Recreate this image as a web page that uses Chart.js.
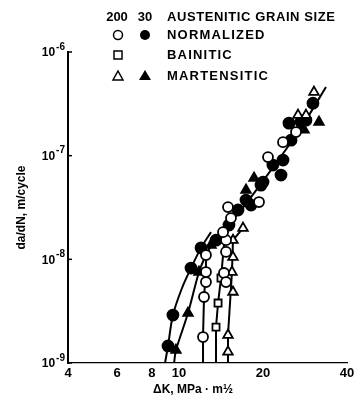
<!DOCTYPE html>
<html lang="en">
<head>
<meta charset="UTF-8">
<script src="https://cdn.jsdelivr.net/npm/chart.js"></script>
<title>Fatigue crack growth</title>
<style>
  body { margin: 0; background: #fff; }
</style>
</head>
<body>
<canvas id="crackChart" width="360" height="400"></canvas>
<script>
// delta K (MPa m^1/2) and da/dN (m/cycle)
const norm200K  = [12.19, 12.29, 12.49, 12.49, 12.49, 14.49, 14.74, 14.74, 14.74, 14.38, 15.35, 14.98, 19.35, 20.84, 23.59, 26.26];
const norm200Da = [1.78e-9, 4.33e-9, 6.04e-9, 7.54e-9, 1.10e-8, 7.38e-9, 6.04e-9, 1.18e-8, 1.53e-8, 1.83e-8, 2.50e-8, 3.19e-8, 3.57e-8, 9.69e-8, 1.35e-7, 1.69e-7];

const norm30K  = [9.13, 9.51, 11.04, 11.99, 13.57, 15.1, 16.27, 17.38, 18.12, 19.67, 20.0, 21.7, 23.2, 23.59, 25.2, 24.78, 27.36, 28.5, 30.2];
const norm30Da = [1.46e-9, 2.90e-9, 8.24e-9, 1.29e-8, 1.53e-8, 2.14e-8, 2.99e-8, 3.73e-8, 3.34e-8, 5.20e-8, 5.56e-8, 8.11e-8, 6.50e-8, 9.07e-8, 1.41e-7, 2.06e-7, 2.11e-7, 2.2e-7, 3.21e-7];

const bain200K  = [13.57, 13.8, 14.14];
const bain200Da = [2.22e-9, 3.79e-9, 6.6e-9];

const mart200K  = [14.98, 14.98, 15.61, 15.48, 15.61, 15.61, 16.96, 26.7, 28.52, 30.46];
const mart200Da = [1.28e-9, 1.86e-9, 4.84e-9, 7.54e-9, 1.05e-8, 1.53e-8, 2.0e-8, 2.46e-7, 2.46e-7, 4.10e-7];

const mart30K  = [9.75, 10.77, 11.79, 13.02, 17.38, 18.57, 28.06, 31.74];
const mart30Da = [1.33e-9, 3.03e-9, 7.54e-9, 1.37e-8, 4.66e-8, 6.08e-8, 1.77e-7, 2.11e-7];

// hand-drawn trend lines of the figure
const curveNormK  = [8.91, 9.13, 9.51, 10.25, 11.04, 11.99, 13.02];
const curveNormDa = [1.0e-9, 1.46e-9, 2.9e-9, 5.29e-9, 8.24e-9, 1.29e-8, 1.83e-8];
const curveMartK  = [9.6, 9.75, 10.77, 11.79, 12.49, 13.57];
const curveMartDa = [1.0e-9, 1.33e-9, 3.03e-9, 7.54e-9, 1.10e-8, 1.71e-8];
const lineNorm200K  = [12.19, 12.19, 12.29, 12.49, 12.49, 13.35];
const lineNorm200Da = [1.0e-9, 1.78e-9, 4.33e-9, 7.54e-9, 1.10e-8, 1.53e-8];
const lineBainK  = [13.57, 13.57, 13.8, 14.14, 14.5];
const lineBainDa = [1.0e-9, 2.22e-9, 3.79e-9, 6.6e-9, 1.4e-8];
const lineMartK  = [14.98, 14.98, 15.48, 15.61, 16.96];
const lineMartDa = [1.0e-9, 1.86e-9, 7.54e-9, 1.53e-8, 2.0e-8];
const mainLineK  = [13.35, 16.68, 21.36, 27.36, 33.63];
const mainLineDa = [1.53e-8, 2.99e-8, 7.26e-8, 1.85e-7, 4.59e-7];

const xTicks = [4, 6, 8, 10, 20, 40];
const yTicks = [1e-9, 1e-8, 1e-7, 1e-6];
const yExponents = ['-9', '-8', '-7', '-6'];

const FONT = '"Liberation Sans", Arial, "DejaVu Sans", sans-serif';

function pts(xs, ys) {
    return xs.map((x, i) => ({ x: x, y: ys[i] }));
}

function markers(xs, ys, style, filled) {
    return {
        data: pts(xs, ys),
        pointStyle: style,
        pointRadius: style === 'triangle' ? 5.5 : (filled ? 5.5 : 5),
        pointBackgroundColor: filled ? '#000' : '#fff',
        pointBorderColor: '#000',
        pointBorderWidth: 1.8,
        showLine: false,
        order: 1
    };
}

function trend(xs, ys, tension) {
    return {
        data: pts(xs, ys),
        showLine: true,
        borderColor: '#000',
        borderWidth: 2,
        pointRadius: 0,
        tension: tension,
        order: 5
    };
}

// legend block, y tick labels with raised exponents, x title
const figureText = {
    id: 'figureText',
    afterDraw(chart) {
        const ctx = chart.ctx;
        const yScale = chart.scales.y;
        const left = chart.chartArea.left;
        ctx.save();
        ctx.fillStyle = '#000';
        ctx.strokeStyle = '#000';
        ctx.textBaseline = 'middle';
        ctx.font = 'bold 13px ' + FONT;
        ctx.textAlign = 'center';
        ctx.fillText('200', 117, 17);
        ctx.fillText('30', 145, 17);
        ctx.textAlign = 'left';
        ctx.letterSpacing = '0.6px';
        ctx.fillText('AUSTENITIC GRAIN SIZE', 167, 17);
        ctx.letterSpacing = '1.2px';
        ctx.fillText('NORMALIZED', 167, 35);
        ctx.fillText('BAINITIC', 167, 55);
        ctx.fillText('MARTENSITIC', 167, 76);
        ctx.letterSpacing = '0px';

        ctx.lineWidth = 1.5;
        ctx.beginPath(); ctx.arc(118, 35, 4.5, 0, Math.PI * 2); ctx.stroke();
        ctx.beginPath(); ctx.arc(145, 35, 5, 0, Math.PI * 2); ctx.fill();
        ctx.strokeRect(114, 51, 8, 8);
        ctx.beginPath(); ctx.moveTo(118, 71); ctx.lineTo(123, 80); ctx.lineTo(113, 80); ctx.closePath(); ctx.stroke();
        ctx.beginPath(); ctx.moveTo(145, 70); ctx.lineTo(151, 80); ctx.lineTo(139, 80); ctx.closePath(); ctx.fill();

        // decade labels 10^n on the y axis, plus short inward ticks
        yTicks.forEach((v, i) => {
            const y = yScale.getPixelForValue(v);
            ctx.font = 'bold 10px ' + FONT;
            ctx.textAlign = 'right';
            ctx.fillText(yExponents[i], left - 3, y - 5);
            const expW = ctx.measureText(yExponents[i]).width;
            ctx.font = 'bold 12px ' + FONT;
            ctx.fillText('10', left - 4 - expW, y + 1);
            ctx.beginPath();
            ctx.moveTo(left, y);
            ctx.lineTo(left + 4, y);
            ctx.stroke();
        });

        ctx.font = 'bold 12px ' + FONT;
        ctx.textAlign = 'center';
        ctx.fillText('\u0394K, MPa \u00B7 m\u00BD', 193, 390);
        ctx.restore();
    }
};

new Chart(document.getElementById('crackChart'), {
    type: 'scatter',
    data: {
        datasets: [
            markers(norm200K, norm200Da, 'circle', false),
            markers(bain200K, bain200Da, 'rect', false),
            markers(mart200K, mart200Da, 'triangle', false),
            markers(norm30K, norm30Da, 'circle', true),
            markers(mart30K, mart30Da, 'triangle', true),
            trend(curveNormK, curveNormDa, 0.3),
            trend(curveMartK, curveMartDa, 0.3),
            trend(lineNorm200K, lineNorm200Da, 0),
            trend(lineBainK, lineBainDa, 0),
            trend(lineMartK, lineMartDa, 0),
            trend(mainLineK, mainLineDa, 0.2)
        ]
    },
    options: {
        responsive: false,
        animation: false,
        layout: { padding: { top: 52, right: 13, left: 0, bottom: 0 } },
        plugins: {
            legend: { display: false },
            tooltip: { enabled: false }
        },
        scales: {
            x: {
                type: 'logarithmic',
                min: 4,
                max: 40,
                afterFit(s) { s.height = 37; },
                afterBuildTicks(s) { s.ticks = xTicks.map(v => ({ value: v })); },
                grid: { display: false, drawTicks: false },
                border: { display: true, color: '#000', width: 1.2 },
                ticks: {
                    color: '#000',
                    padding: 3,
                    autoSkip: false,
                    maxRotation: 0,
                    font: { family: FONT, weight: 'bold', size: 13 },
                    callback: v => String(v)
                }
            },
            y: {
                type: 'logarithmic',
                min: 1e-9,
                max: 1e-6,
                afterFit(s) { s.width = 68; },
                afterBuildTicks(s) { s.ticks = yTicks.map(v => ({ value: v })); },
                grid: { display: false, drawTicks: false },
                border: { display: true, color: '#000', width: 2 },
                ticks: { display: false },
                title: {
                    display: true,
                    text: 'da/dN, m/cycle',
                    color: '#000',
                    padding: { top: 14, bottom: 0 },
                    font: { family: FONT, weight: 'bold', size: 12 }
                }
            }
        }
    },
    plugins: [figureText]
});
</script>
</body>
</html>
